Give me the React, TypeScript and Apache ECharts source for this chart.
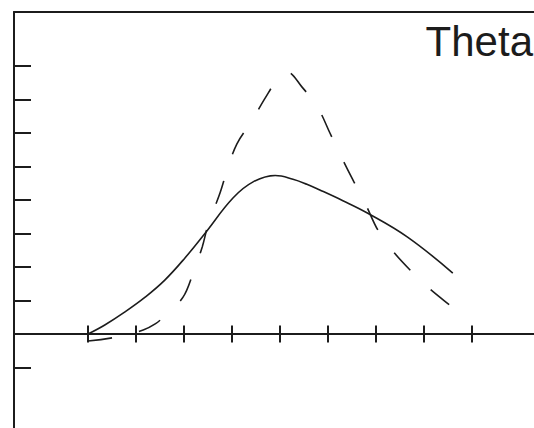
import { useEffect, useRef } from "react";
import * as echarts from "echarts";

// Tick positions along each axis (data units)
const xTicks = [0, 1, 2, 3, 4, 5, 6, 7, 8];
const yTicks = [-1, 1, 2, 3, 4, 5, 6, 7, 8];

// Solid curve
const solidX = [0, 0.35, 0.77, 1.19, 1.6, 2.02, 2.44, 3.02, 3.44, 3.9, 4.27, 4.56, 4.83, 5.31, 5.81, 6.65, 7.6];
const solidY = [0, 0.27, 0.66, 1.1, 1.61, 2.27, 3.01, 4.06, 4.54, 4.73, 4.62, 4.47, 4.3, 3.98, 3.62, 2.9, 1.82];

// Dashed curve
const dashedX = [0, 0.6, 1.15, 1.4, 1.6, 1.98, 2.19, 2.38, 2.5, 2.75, 2.9, 3.1, 3.4, 3.69, 3.98, 4.15, 4.46, 4.79, 5.04, 5.27, 5.54, 5.79, 6.04, 6.33, 6.75, 7.1, 7.58, 7.92];
const dashedY = [-0.21, -0.09, 0.12, 0.3, 0.54, 1.1, 1.82, 2.6, 3.25, 4.21, 4.9, 5.67, 6.33, 7.04, 7.67, 7.82, 7.37, 6.75, 6.0, 5.31, 4.54, 3.85, 3.1, 2.51, 1.85, 1.37, 0.81, 0.42];

const title = "Theta";

const zip = (xs: number[], ys: number[]) => xs.map((x, i) => [x, ys[i]]);

export default function App() {
  const ref = useRef<HTMLDivElement>(null);

  useEffect(() => {
    if (!ref.current) return;
    const chart = echarts.init(ref.current, null, { renderer: "svg" });
    const ink = "#1c1c1c";
    const axisStroke = { color: ink, width: 2 };
    const xBase = {
      type: "value" as const,
      min: -1.5417,
      max: 9.2917,
      splitLine: { show: false },
      axisLabel: { show: false },
    };

    chart.setOption({
      animation: false,
      grid: { left: 14, top: 12, right: 0, bottom: 0, containLabel: false, outerBoundsMode: "none" },
      xAxis: [
        {
          ...xBase,
          position: "bottom",
          axisLine: { show: true, onZero: true, onZeroAxisIndex: 0, lineStyle: axisStroke },
          axisTick: { show: true, customValues: xTicks, length: 8.5, lineStyle: axisStroke },
        },
        {
          ...xBase,
          position: "top",
          axisLine: { show: true, onZero: true, onZeroAxisIndex: 0, lineStyle: axisStroke },
          axisTick: { show: true, customValues: xTicks, length: 8.5, lineStyle: axisStroke },
        },
        {
          ...xBase,
          position: "top",
          axisLine: { show: true, onZero: false, lineStyle: axisStroke },
          axisTick: { show: false },
        },
      ],
      yAxis: {
        type: "value",
        min: -2.806,
        max: 9.612,
        splitLine: { show: false },
        axisLabel: { show: false },
        axisLine: { show: true, onZero: false, lineStyle: axisStroke },
        axisTick: { show: true, inside: true, customValues: yTicks, length: 17, lineStyle: axisStroke },
      },
      graphic: [
        {
          type: "text",
          x: 533,
          y: 41,
          style: {
            text: title,
            fill: ink,
            font: "42px 'Liberation Sans', Arial, sans-serif",
            align: "right",
            verticalAlign: "middle",
          },
        },
      ],
      series: [
        {
          type: "line",
          xAxisIndex: 0,
          yAxisIndex: 0,
          data: zip(solidX, solidY),
          smooth: 0.4,
          symbol: "none",
          lineStyle: { color: ink, width: 1.6 },
        },
        {
          type: "line",
          xAxisIndex: 0,
          yAxisIndex: 0,
          data: zip(dashedX, dashedY),
          smooth: 0.35,
          symbol: "none",
          lineStyle: { color: ink, width: 1.6, type: [24, 28] },
        },
      ],
    });

    return () => chart.dispose();
  }, []);

  return (
    <div
      ref={ref}
      style={{ position: "fixed", left: 0, top: 0, width: 534, height: 428, background: "#fff" }}
    />
  );
}
